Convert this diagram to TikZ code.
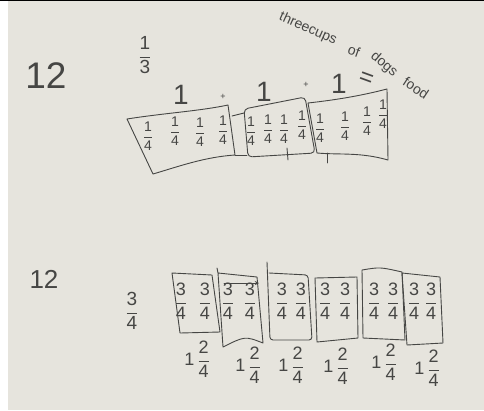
\documentclass[tikz,border=0pt]{standalone}
\usepackage{fontspec}
\usepackage{amsmath}
\setmainfont{Liberation Sans}
\definecolor{paper}{RGB}{230,228,221}
\definecolor{pencil}{RGB}{70,70,68}
\newcommand{\fr}[2]{\ensuremath{\genfrac{}{}{0.7pt}{0}{\mbox{#1}}{\mbox{#2}}}}

\begin{document}
\begin{tikzpicture}[
        x=1pt, y=-1pt,
        pencil/.style   ={draw=pencil, line width=0.9pt, line cap=round, line join=round},
        quarter/.style  ={text=pencil, inner sep=0pt, font=\fontsize{14}{14}\selectfont},
        threefour/.style={text=pencil, inner sep=0pt, font=\fontsize{18}{18}\selectfont},
        mixed/.style    ={text=pencil, inner sep=0pt, font=\fontsize{18}{18}\selectfont},
        big/.style      ={text=pencil, inner sep=0pt, font=\fontsize{37}{37}\selectfont},
        one/.style      ={text=pencil, inner sep=0pt, font=\fontsize{28}{28}\selectfont},
        scrawl/.style   ={text=pencil, inner sep=0pt, font=\fontsize{14}{14}\selectfont},
        >=stealth,
    ]
    %% Paper
    \useasboundingbox (0,0) rectangle (484,410);
    \fill[paper] (0,0) rectangle (484,410);
    \fill[white] (0,0) rectangle (8,410);
    \fill[black] (0,0) rectangle (484,1.3);

    %% Top problem
    \node[big]                  (num1) at (46,76)  {12};
    \node[threefour, font=\fontsize{19}{19}\selectfont] (third) at (145,55) {\fr{1}{3}};

    \draw[pencil] (127,119) .. controls (165,113) and (200,111) .. (228,105)
        -- (235,155) .. controls (205,157) and (180,166) .. (153,174) -- cycle;
    \draw[pencil, rounded corners=4pt] (244,109) -- (305,97) -- (315,153) -- (248,157) -- cycle;
    \draw[pencil] (308,103) .. controls (335,100) and (360,96) .. (387,89)
        -- (388,160) .. controls (360,152) and (340,155) .. (317,153) -- cycle;
    \draw[pencil] (232,116) -- (244,113);
    \draw[pencil] (235,155) -- (247,155);
    \draw[pencil] (287,148) -- (288,160);
    \draw[pencil] (327,153) -- (327,163);

    \foreach \x/\y [count=\i] in {148/136, 175/131, 200/132, 223/130,
                                  251/131, 268/129, 284/129, 302/125,
                                  320/128, 345/126, 367/121, 383/114}
        \node[quarter] (q\i) at (\x,\y) {\fr{1}{4}};

    %% 1 + 1 + 1 = three cups
    \node[one]  (oneA) at (181,95) {1};
    \node[scrawl, font=\fontsize{9}{9}\selectfont] (plusA) at (223,97) {+};
    \node[one]  (oneB) at (264,92) {1};
    \node[scrawl, font=\fontsize{9}{9}\selectfont] (plusB) at (306,85) {+};
    \node[one]  (oneC) at (339,84) {1};
    \node[scrawl, rotate=-20, font=\fontsize{24}{24}\selectfont] (eq) at (366,79) {=};
    \node[scrawl, rotate=-24] (three) at (308,29) {threecups};
    \node[scrawl, rotate=-20] (of)    at (354,51) {of};
    \node[scrawl, rotate=-40] (dogs)  at (384,64) {dogs};
    \node[scrawl, rotate=-33] (food)  at (416,88) {food};

    %% Bottom problem
    \node[big, font=\fontsize{26}{26}\selectfont] (num2) at (44,279) {12};
    \node[threefour, font=\fontsize{19}{19}\selectfont] (part) at (132,311) {\fr{3}{4}};

    \draw[pencil] (172,273) -- (212,275) -- (220,332) -- (180,333) -- cycle;
    \draw[pencil] (217,268) -- (218,273) -- (257,277) -- (263,343)
        .. controls (245,336) .. (223,347) -- (218,273);
    \draw[pencil, rounded corners=3pt] (267,262) -- (270,340) -- (312,340) -- (308,275) -- (269,273);
    \draw[pencil] (315,278) -- (357,277) -- (358,338) -- (317,342) -- cycle;
    \draw[pencil] (362,270) .. controls (380,267) .. (402,272) -- (405,340) -- (363,338) -- cycle;
    \draw[pencil] (402,273) -- (440,277) -- (443,343) -- (407,345) -- cycle;

    \foreach \x [count=\i] in {181, 205, 228, 250, 282, 301, 325, 345, 374, 393, 414, 431}
        \node[threefour] (tf\i) at (\x,301) {\fr{3}{4}};

    \coordinate (arrS) at (224,283);
    \coordinate (arrE) at (259,283);
    \draw[pencil, ->] (arrS) -- (arrE);

    \foreach \x/\y [count=\i] in {197/359, 248/365, 291/365, 336/366, 384/362, 427/368}
        \node[mixed] (m\i) at (\x,\y) {1\,\fr{2}{4}};

    \end{tikzpicture}
\end{document}
